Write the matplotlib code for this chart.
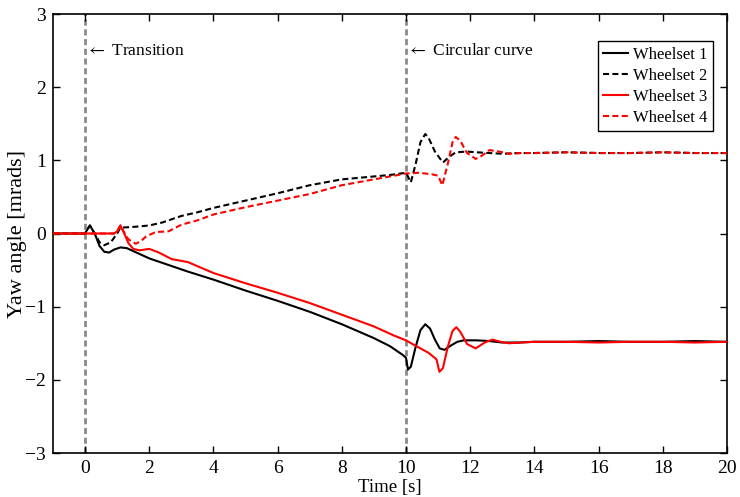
import matplotlib
matplotlib.use("Agg")
import matplotlib.pyplot as plt

plt.rcParams['font.family'] = ['Liberation Serif', 'DejaVu Serif']
plt.rcParams['mathtext.fontset'] = 'stix'
plt.rcParams['axes.unicode_minus'] = True

# Wheelset 1 (leading bogie, front)
t_w1 = [-1.0, 0.0, 0.05, 0.15, 0.3, 0.45, 0.6, 0.75, 0.9, 1.1, 1.3, 1.6, 2.0, 2.6,
        3.2, 4.0, 5.0, 6.0, 7.0, 8.0, 9.0, 9.5, 9.9, 10.0, 10.06, 10.15, 10.3,
        10.45, 10.6, 10.75, 10.9, 11.05, 11.2, 11.4, 11.6, 11.8, 12.2, 12.6,
        13.0, 13.5, 14.0, 15.0, 16.0, 17.0, 18.0, 19.0, 20.0]
y_w1 = [0.0, 0.0, 0.04, 0.11, 0.0, -0.17, -0.25, -0.26, -0.22, -0.19, -0.20, -0.26,
        -0.34, -0.43, -0.52, -0.63, -0.78, -0.92, -1.07, -1.24, -1.43, -1.54,
        -1.66, -1.70, -1.86, -1.82, -1.55, -1.32, -1.24, -1.30, -1.45, -1.57,
        -1.59, -1.53, -1.48, -1.46, -1.46, -1.47, -1.49, -1.49, -1.48, -1.48,
        -1.47, -1.48, -1.48, -1.47, -1.48]

# Wheelset 2 (leading bogie, rear)
t_w2 = [-1.0, 0.0, 0.05, 0.15, 0.3, 0.45, 0.6, 0.8, 1.0, 1.1, 1.5, 2.0, 2.4, 3.0,
        3.5, 4.0, 5.0, 6.0, 7.0, 8.0, 9.0, 9.5, 10.0, 10.15, 10.3, 10.45, 10.6,
        10.7, 10.9, 11.15, 11.35, 11.55, 11.9, 12.2, 12.6, 13.0, 13.5, 14.0,
        15.0, 16.0, 17.0, 18.0, 19.0, 20.0]
y_w2 = [0.0, 0.0, 0.04, 0.11, 0.0, -0.12, -0.16, -0.12, 0.0, 0.08, 0.09, 0.11,
        0.15, 0.24, 0.29, 0.35, 0.45, 0.55, 0.66, 0.74, 0.78, 0.80, 0.83, 0.70,
        0.95, 1.25, 1.36, 1.31, 1.12, 0.97, 1.05, 1.11, 1.12, 1.11, 1.10, 1.09,
        1.10, 1.10, 1.11, 1.10, 1.10, 1.11, 1.10, 1.10]

# Wheelset 3 (trailing bogie, front)
t_w3 = [-1.0, 0.9, 1.0, 1.1, 1.2, 1.35, 1.5, 1.7, 2.0, 2.3, 2.7, 3.2, 4.0, 5.0,
        6.0, 7.0, 8.0, 9.0, 9.6, 10.0, 10.2, 10.7, 10.95, 11.04, 11.15, 11.3,
        11.45, 11.57, 11.7, 11.9, 12.17, 12.45, 12.69, 12.95, 13.2, 13.6, 14.0,
        15.0, 16.0, 17.0, 18.0, 19.0, 20.0]
y_w3 = [0.0, 0.0, 0.03, 0.11, 0.02, -0.13, -0.21, -0.23, -0.21, -0.26, -0.35,
        -0.39, -0.54, -0.68, -0.81, -0.95, -1.11, -1.27, -1.39, -1.46, -1.51,
        -1.63, -1.72, -1.89, -1.84, -1.55, -1.33, -1.28, -1.35, -1.51, -1.57,
        -1.49, -1.45, -1.48, -1.50, -1.49, -1.48, -1.48, -1.49, -1.48, -1.48,
        -1.49, -1.48]

# Wheelset 4 (trailing bogie, rear)
t_w4 = [-1.0, 0.9, 1.0, 1.1, 1.2, 1.35, 1.58, 1.75, 1.9, 2.2, 2.6, 3.0, 3.5, 4.0,
        5.0, 6.0, 7.0, 8.0, 9.0, 9.5, 10.0, 10.4, 10.8, 11.0, 11.13, 11.3, 11.45,
        11.55, 11.7, 11.9, 12.17, 12.35, 12.6, 12.9, 13.2, 13.6, 14.0, 15.0,
        16.0, 17.0, 18.0, 19.0, 20.0]
y_w4 = [0.0, 0.0, 0.03, 0.11, 0.03, -0.08, -0.14, -0.10, -0.04, 0.02, 0.03, 0.12,
        0.18, 0.26, 0.36, 0.45, 0.54, 0.66, 0.74, 0.78, 0.82, 0.83, 0.81, 0.79,
        0.66, 0.95, 1.25, 1.32, 1.26, 1.10, 1.02, 1.06, 1.14, 1.12, 1.09, 1.10,
        1.10, 1.11, 1.10, 1.10, 1.11, 1.10, 1.10]

labels = ["Wheelset 1", "Wheelset 2", "Wheelset 3", "Wheelset 4"]
event_times = [0, 10]
event_texts = [r"$\leftarrow$ Transition", r"$\leftarrow$ Circular curve"]
x_ticks = list(range(0, 21, 2))
y_ticks = list(range(-3, 4))

fig = plt.figure(figsize=(7.4, 4.97), dpi=100)
ax = fig.add_axes([0.0716, 0.0885, 0.9108, 0.8833])

for tv in event_times:
    ax.axvline(tv, color='#8a8a8a', lw=2.0, dashes=(2.2, 1.3), zorder=1)

lw = 1.5
ax.plot(t_w1, y_w1, color='black', lw=lw, label=labels[0], zorder=3)
ax.plot(t_w2, y_w2, color='black', lw=lw, dashes=(2.9, 1.6), label=labels[1], zorder=3)
ax.plot(t_w3, y_w3, color='red', lw=lw, label=labels[2], zorder=3)
ax.plot(t_w4, y_w4, color='red', lw=lw, dashes=(2.9, 1.6), label=labels[3], zorder=3)

for tv, txt in zip(event_times, event_texts):
    ax.text(tv + 0.02, 2.5, txt, fontsize=12.5, ha='left', va='center')

ax.set_xlim(-1, 20)
ax.set_ylim(-3, 3)
ax.set_xticks(x_ticks)
ax.set_yticks(y_ticks)
ax.tick_params(direction='in', top=True, right=True, length=5, width=1,
               labelsize=14, pad=5)
for sp in ax.spines.values():
    sp.set_linewidth(1.2)

ax.set_xlabel("Time [s]", fontsize=13.5, labelpad=1.5)
ax.set_ylabel("Yaw angle [mrads]", fontsize=16, labelpad=-1)

leg = ax.legend(loc='upper right', bbox_to_anchor=(0.979, 0.939), borderaxespad=0,
                fontsize=12, handlelength=1.5, handletextpad=0.25,
                labelspacing=0.3, borderpad=0.35, fancybox=False,
                edgecolor='black', framealpha=1)
leg.get_frame().set_linewidth(1.0)

fig.savefig("out.png", dpi=100)
